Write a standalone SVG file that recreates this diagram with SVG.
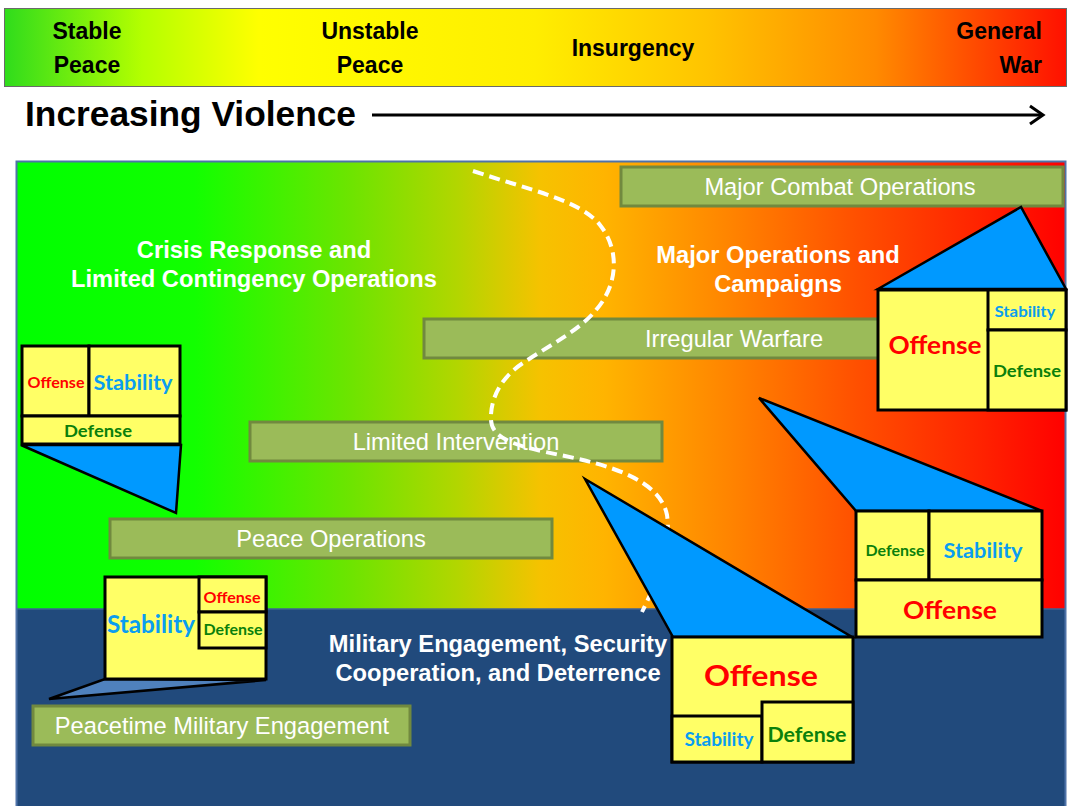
<svg xmlns="http://www.w3.org/2000/svg" width="1069" height="806" viewBox="0 0 1069 806">
<defs>
<linearGradient id="gTop" x1="4" y1="0" x2="1067" y2="0" gradientUnits="userSpaceOnUse">
<stop offset="0" stop-color="#2fdc1c"/>
<stop offset="0.13" stop-color="#b4ff00"/>
<stop offset="0.24" stop-color="#ffff00"/>
<stop offset="0.5" stop-color="#ffee00"/>
<stop offset="0.66" stop-color="#ffc400"/>
<stop offset="0.82" stop-color="#ff8a00"/>
<stop offset="1" stop-color="#ff1000"/>
</linearGradient>
<linearGradient id="gMain" x1="16" y1="0" x2="1066" y2="0" gradientUnits="userSpaceOnUse">
<stop offset="0" stop-color="#00ff00"/>
<stop offset="0.17" stop-color="#12ff00"/>
<stop offset="0.32" stop-color="#6ee400"/>
<stop offset="0.42" stop-color="#b2d600"/>
<stop offset="0.5" stop-color="#f6c200"/>
<stop offset="0.56" stop-color="#ffb400"/>
<stop offset="0.68" stop-color="#ff8400"/>
<stop offset="0.8" stop-color="#ff5000"/>
<stop offset="0.92" stop-color="#ff2200"/>
<stop offset="1" stop-color="#ff0000"/>
</linearGradient>
<style>
.lbl{font-family:"Liberation Sans",Arial,sans-serif;font-weight:bold;fill:#000;font-size:23px}
.sec{font-family:"Liberation Sans",Arial,sans-serif;font-weight:bold;fill:#fff;font-size:23.7px;text-anchor:middle}
.bar rect{fill:#9bbb59;stroke:#71893f;stroke-width:3}
.bar text{font-family:"Liberation Sans",Arial,sans-serif;fill:#fff;font-size:23.7px;text-anchor:middle}
.cell{fill:#ffff66;stroke:#000;stroke-width:3}
.tri{fill:#0099ff;stroke:#000;stroke-width:2.5;stroke-linejoin:miter}
.bt{font-family:Lato,"Noto Sans",sans-serif;font-weight:bold;text-anchor:middle}
.off{fill:#ff0000}
.sta{fill:#0a9df0}
.def{fill:#0b800b}
</style>
</defs>

<g id="scale-bar">
<rect x="4.5" y="8.5" width="1062" height="78" fill="url(#gTop)" stroke="#6a6a6a" stroke-width="1"/>
<text class="lbl" x="87" y="39" text-anchor="middle">Stable</text>
<text class="lbl" x="87" y="73" text-anchor="middle">Peace</text>
<text class="lbl" x="370" y="39" text-anchor="middle">Unstable</text>
<text class="lbl" x="370" y="73" text-anchor="middle">Peace</text>
<text class="lbl" x="633" y="56" text-anchor="middle">Insurgency</text>
<text class="lbl" x="1042" y="39" text-anchor="end">General</text>
<text class="lbl" x="1042" y="73" text-anchor="end">War</text>
</g>

<g id="violence-axis">
<text x="25" y="126" font-family="Liberation Sans, Arial, sans-serif" font-weight="bold" font-size="35" fill="#000" textLength="331" lengthAdjust="spacingAndGlyphs">Increasing Violence</text>
<line x1="372" y1="115" x2="1042" y2="115" stroke="#000" stroke-width="3"/>
<polyline points="1030,106 1043,115 1030,124" fill="none" stroke="#000" stroke-width="3"/>
</g>

<g id="panel">
<rect x="16" y="161" width="1050" height="448" fill="url(#gMain)"/>
<rect x="16" y="609" width="1050" height="200" fill="#214a7c"/>
<line x1="16" y1="609" x2="1066" y2="609" stroke="#3e6296" stroke-width="1.5"/>
<rect x="16.5" y="161.5" width="1049" height="650" fill="none" stroke="#4f73a8" stroke-width="2"/>
</g>

<g id="section-labels">
<text class="sec" x="254" y="258">Crisis Response and</text>
<text class="sec" x="254" y="287">Limited Contingency Operations</text>
<text class="sec" x="778" y="263">Major Operations and</text>
<text class="sec" x="778" y="292">Campaigns</text>
<text class="sec" x="498" y="652">Military Engagement, Security</text>
<text class="sec" x="498" y="681">Cooperation, and Deterrence</text>
</g>

<g id="bar-major-combat" class="bar">
<rect x="621" y="167" width="442" height="39"/>
<text x="840" y="195">Major Combat Operations</text>
</g>
<g id="bar-irregular-warfare" class="bar">
<rect x="424" y="319" width="456" height="39"/>
<text x="734" y="347">Irregular Warfare</text>
</g>
<g id="bar-limited-intervention" class="bar">
<rect x="250" y="422" width="412" height="39"/>
<text x="456" y="450">Limited Intervention</text>
</g>
<g id="bar-peace-operations" class="bar">
<rect x="110" y="519" width="442" height="39"/>
<text x="331" y="547">Peace Operations</text>
</g>
<g id="bar-peacetime" class="bar">
<rect x="33" y="706" width="377" height="39"/>
<text x="222" y="734">Peacetime Military Engagement</text>
</g>

<g id="connectors">
<path d="M473,171 C530,190 580,200 600,225 C620,250 618,285 596,310 C580,330 550,345 523,363 C500,378 490,400 491,420 C492,440 520,447 560,455 C610,465 660,480 667,515 C672,550 655,585 642,612" fill="none" stroke="#fff" stroke-width="4" stroke-dasharray="11,6"/>
</g>

<g id="house-crisis">
<polygon class="tri" points="21,445 181,445 176,513"/>
<rect class="cell" x="22" y="346" width="67" height="70"/>
<rect class="cell" x="89" y="346" width="91" height="70"/>
<rect class="cell" x="22" y="416" width="158" height="28"/>
<text class="bt off" x="56" y="388" font-size="15" textLength="57" lengthAdjust="spacingAndGlyphs">Offense</text>
<text class="bt sta" x="133" y="390" font-size="21" textLength="79" lengthAdjust="spacingAndGlyphs">Stability</text>
<text class="bt def" x="98" y="437" font-size="17" textLength="68" lengthAdjust="spacingAndGlyphs">Defense</text>
</g>

<g id="house-peacetime">
<polygon points="105,679 266,680 49,699" fill="#4f81bd" stroke="#000" stroke-width="2.5"/>
<rect class="cell" x="105" y="577" width="161" height="102"/>
<rect class="cell" x="199" y="577" width="67" height="35"/>
<rect class="cell" x="199" y="612" width="67" height="36"/>
<text class="bt sta" x="151" y="633" font-size="24" textLength="88" lengthAdjust="spacingAndGlyphs">Stability</text>
<text class="bt off" x="232" y="603" font-size="16" textLength="57" lengthAdjust="spacingAndGlyphs">Offense</text>
<text class="bt def" x="233" y="635" font-size="16" textLength="59" lengthAdjust="spacingAndGlyphs">Defense</text>
</g>

<g id="house-major">
<polygon class="tri" points="878,289 1021,207 1066,289"/>
<rect class="cell" x="878" y="290" width="188" height="120"/>
<rect class="cell" x="988" y="290" width="78" height="40"/>
<rect class="cell" x="988" y="330" width="78" height="80"/>
<text class="bt off" x="935" y="354" font-size="25" textLength="93" lengthAdjust="spacingAndGlyphs">Offense</text>
<text class="bt sta" x="1025" y="317" font-size="15" textLength="61" lengthAdjust="spacingAndGlyphs">Stability</text>
<text class="bt def" x="1027" y="377" font-size="17" textLength="68" lengthAdjust="spacingAndGlyphs">Defense</text>
</g>

<g id="house-irregular">
<polygon class="tri" points="759,398 1042,511 856,511"/>
<rect class="cell" x="856" y="511" width="73" height="69"/>
<rect class="cell" x="929" y="511" width="113" height="69"/>
<rect class="cell" x="856" y="580" width="186" height="57"/>
<text class="bt def" x="895" y="556" font-size="15" textLength="59" lengthAdjust="spacingAndGlyphs">Defense</text>
<text class="bt sta" x="983" y="558" font-size="20" textLength="79" lengthAdjust="spacingAndGlyphs">Stability</text>
<text class="bt off" x="950" y="619" font-size="24" textLength="94" lengthAdjust="spacingAndGlyphs">Offense</text>
</g>

<g id="house-limited">
<polygon class="tri" points="585,479 852,637 673,637"/>
<rect class="cell" x="672" y="637" width="181" height="125"/>
<rect class="cell" x="672" y="716" width="90" height="46"/>
<rect class="cell" x="762" y="702" width="91" height="60"/>
<text class="bt off" x="761" y="686" font-size="29" textLength="114" lengthAdjust="spacingAndGlyphs">Offense</text>
<text class="bt sta" x="719" y="746" font-size="18" textLength="69" lengthAdjust="spacingAndGlyphs">Stability</text>
<text class="bt def" x="807" y="742" font-size="20" textLength="79" lengthAdjust="spacingAndGlyphs">Defense</text>
</g>
</svg>
